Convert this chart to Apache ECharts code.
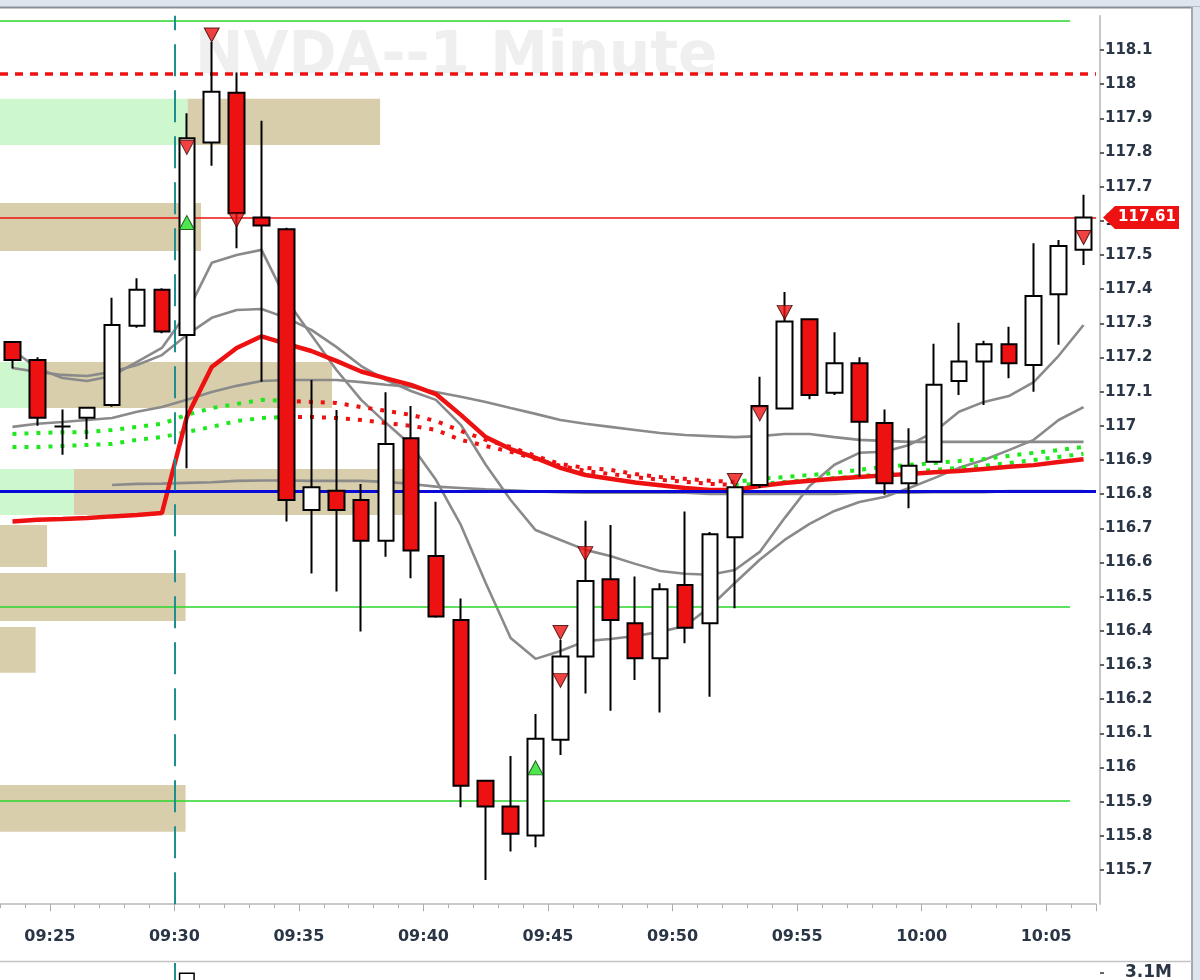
<!DOCTYPE html>
<html>
<head>
<meta charset="utf-8">
<script src="https://cdn.jsdelivr.net/npm/echarts@6/dist/echarts.min.js"></script>
<style>
html,body{margin:0;padding:0;background:#ffffff;}
#chart{width:1200px;height:980px;}
</style>
</head>
<body>
<div id="chart"></div>
<script>
// ---------- DATA ----------
const times = ['09:23','09:24','09:25','09:26','09:27','09:28','09:29','09:30','09:31','09:32','09:33','09:34','09:35','09:36','09:37','09:38','09:39','09:40','09:41','09:42','09:43','09:44','09:45','09:46','09:47','09:48','09:49','09:50','09:51','09:52','09:53','09:54','09:55','09:56','09:57','09:58','09:59','10:00','10:01','10:02','10:03','10:04','10:05','10:06'];
const open  = [117.245,117.193,116.998,117.024,117.061,117.293,117.398,117.266,117.829,117.975,117.610,117.575,116.754,116.810,116.783,116.664,116.964,116.619,116.432,115.961,115.886,115.801,116.081,116.325,116.551,116.422,116.320,116.534,116.422,116.674,116.827,117.051,117.312,117.097,117.183,117.008,116.832,116.895,117.131,117.188,117.239,117.178,117.385,117.515];
const close = [117.193,117.024,116.998,117.053,117.295,117.398,117.276,117.842,117.978,117.622,117.586,116.783,116.820,116.754,116.664,116.947,116.635,116.442,115.947,115.886,115.806,116.084,116.325,116.546,116.432,116.320,116.522,116.409,116.683,116.820,117.058,117.305,117.090,117.183,117.012,116.832,116.883,117.120,117.188,117.239,117.183,117.380,117.526,117.610];
const low   = [117.168,117.000,116.915,116.961,117.056,117.287,117.271,116.876,117.761,117.520,117.129,116.720,116.568,116.515,116.398,116.617,116.554,116.438,115.884,115.671,115.754,115.767,116.037,116.217,116.166,116.256,116.161,116.364,116.207,116.466,116.818,117.048,117.078,117.090,116.851,116.798,116.759,116.893,117.090,117.061,117.139,117.100,117.237,117.471];
const high  = [117.245,117.201,117.048,117.055,117.375,117.432,117.403,117.915,118.123,118.034,117.893,117.580,117.134,117.046,116.830,117.098,117.058,116.778,116.495,115.961,116.034,116.157,116.373,116.722,116.710,116.559,116.539,116.749,116.689,116.825,117.144,117.392,117.312,117.274,117.201,117.048,116.993,117.240,117.302,117.249,117.290,117.534,117.544,117.676];
const volumeM = [0.35,0.30,0.28,0.25,0.40,0.32,0.30,3.10,2.40,2.60,1.90,2.70,1.50,1.30,1.20,1.40,1.30,1.20,2.20,1.60,1.40,1.70,1.30,1.20,1.00,0.90,0.90,0.90,0.80,1.00,1.20,1.40,1.00,0.80,0.90,0.90,0.70,0.80,0.70,0.60,0.60,0.90,0.80,0.60];

const vwap = [116.720,116.725,116.727,116.730,116.735,116.739,116.745,117.026,117.172,117.228,117.262,117.240,117.219,117.190,117.159,117.139,117.120,117.093,117.032,116.967,116.932,116.906,116.877,116.856,116.845,116.834,116.826,116.818,116.812,116.812,116.824,116.833,116.839,116.845,116.850,116.855,116.859,116.864,116.868,116.874,116.880,116.885,116.894,116.902];
const grayA = [117.222,117.169,117.140,117.131,117.146,117.187,117.228,117.330,117.477,117.500,117.515,117.368,117.266,117.164,117.076,117.008,116.944,116.842,116.710,116.540,116.379,116.318,116.341,116.370,116.376,116.385,116.397,116.414,116.470,116.540,116.608,116.666,116.713,116.751,116.777,116.792,116.818,116.847,116.877,116.900,116.929,116.959,117.017,117.055];
const grayB = [117.169,117.158,117.149,117.146,117.158,117.178,117.207,117.266,117.316,117.339,117.342,117.316,117.281,117.231,117.175,117.134,117.102,117.076,117.003,116.886,116.783,116.695,116.666,116.637,116.619,116.596,116.575,116.567,116.564,116.578,116.631,116.730,116.824,116.886,116.921,116.924,116.944,116.982,117.041,117.070,117.087,117.128,117.205,117.295];
const grayC = [116.997,117.006,117.011,117.017,117.023,117.041,117.055,117.076,117.099,117.117,117.131,117.134,117.134,117.134,117.128,117.120,117.114,117.099,117.085,117.070,117.052,117.035,117.017,117.006,116.997,116.988,116.979,116.973,116.970,116.967,116.970,116.976,116.976,116.967,116.959,116.956,116.953,116.953,116.953,116.953,116.953,116.953,116.953,116.953];
const grayD = [null,null,null,null,116.827,116.830,116.831,116.833,116.835,116.839,116.840,116.840,116.839,116.839,116.839,116.836,116.830,116.822,116.818,116.814,116.811,116.808,116.806,116.804,116.804,116.804,116.804,116.804,116.801,116.801,116.801,116.801,116.801,116.801,116.804,116.804,116.804,116.806,116.806,116.806,116.809,116.809,116.809,116.809];
const emaUpper = [116.976,116.979,116.981,116.982,116.988,116.997,117.006,117.032,117.052,117.064,117.076,117.073,117.070,117.067,117.055,117.044,117.032,117.014,116.985,116.959,116.938,116.912,116.888,116.877,116.871,116.859,116.850,116.845,116.839,116.836,116.845,116.850,116.856,116.862,116.871,116.880,116.886,116.891,116.897,116.903,116.912,116.921,116.929,116.938];
const emaLower = [116.938,116.938,116.941,116.944,116.947,116.959,116.967,116.982,116.997,117.014,117.023,117.026,117.026,117.023,117.017,117.008,117.000,116.988,116.959,116.941,116.924,116.903,116.883,116.868,116.859,116.850,116.842,116.836,116.830,116.827,116.830,116.836,116.842,116.847,116.853,116.859,116.865,116.871,116.877,116.883,116.891,116.900,116.909,116.918];
// EMA colouring: green / red / green split points (bar index)
const emaColorBreaks = [10.6, 29.1];

// signals: [bar index, price]
const sellSignals = [[7,117.815],[8,118.144],[9,117.602],[22,116.395],[22,116.255],[23,116.626],[29,116.840],[30,117.035],[31,117.332],[43,117.551]];
const buySignals  = [[7,117.595],[21,115.999]];

// levels
const lastPrice = 117.61;
const resistanceLevel = 118.03;
const pivotLevel = 116.807;
const greenLevels = [118.186, 116.471, 115.904];
const greenLevelEnd = 65.96;        // minutes after 09:00
const sessionOpen = 30;             // 09:30, minutes after 09:00
const axisStartMin = 23, axisEndMin = 67;

// zones: [startMin, endMin, topPrice, bottomPrice]
const tanZones = [
  [30.53,38.26,117.957,117.822],
  [23.00,31.07,117.652,117.512],
  [24.20,36.33,117.187,117.052],
  [25.97,39.18,116.874,116.739],
  [23.00,24.89,116.710,116.587],
  [23.00,30.45,116.569,116.429],
  [23.00,24.43,116.411,116.277],
  [23.00,30.45,115.949,115.812]
];
const greenZones = [
  [23.00,30.53,117.957,117.822],
  [23.00,24.20,117.187,117.052],
  [23.00,25.97,116.874,116.739]
];

const tickLabels = {25:'09:25',30:'09:30',35:'09:35',40:'09:40',45:'09:45',50:'09:50',55:'09:55',60:'10:00',65:'10:05'};
const volumeLabelValue = 3.1;

// ---------- STYLE ----------
const FONT = '"DejaVu Sans", Verdana, sans-serif';
const LABEL_COLOR = '#2a3546';
const RED = '#ee1111';
const GRAY = '#8a8a8a';
const GREEN_LINE = '#2ad62a';
const GREEN_DOT = '#1fe81f';
const TAN = '#d8ceac';
const LIGHT_GREEN = '#cdf8cd';

const candleData = times.map((t, i) => [open[i], close[i], low[i], high[i]]);

const chart = echarts.init(document.getElementById('chart'), null, {renderer: 'canvas', width: 1200, height: 980});

const grayLine = (data, z) => ({
  type: 'line', xAxisIndex: 0, yAxisIndex: 0, data: data, symbol: 'none', silent: true, z: z,
  lineStyle: {color: GRAY, width: 2.6}, connectNulls: false
});

const option = {
  animation: false,
  backgroundColor: '#ffffff',
  grid: [
    {left: 0, top: 15.8, width: 1096, height: 888.4, containLabel: false, outerBoundsMode: 'none'},
    {left: 0, top: 963, width: 1096, height: 300, containLabel: false, outerBoundsMode: 'none'}
  ],
  xAxis: [
    { type: 'category', gridIndex: 0, position: 'bottom', data: times, boundaryGap: true,
      axisLine: {show: false}, axisLabel: {show: false}, splitLine: {show: false},
      axisTick: {show: true, length: 7, lineStyle: {color: '#a8a8a8', width: 1},
        interval: (idx) => (axisStartMin + idx) % 5 === 0 } },
    { type: 'value', gridIndex: 0, position: 'bottom', min: axisStartMin, max: axisEndMin, interval: 1,
      axisLine: {show: true, onZero: false, lineStyle: {color: '#b8b8b8', width: 1.5}},
      axisTick: {show: true, length: 4, lineStyle: {color: '#b0b0b0', width: 1}},
      splitLine: {show: false},
      axisLabel: {margin: 25, color: LABEL_COLOR, fontFamily: FONT, fontWeight: 'bold', fontSize: 16,
        showMinLabel: true, showMaxLabel: true,
        formatter: (v) => tickLabels[Math.round(v)] || '' } },
    { type: 'category', gridIndex: 1, position: 'bottom', data: times, boundaryGap: true, show: false },
    { type: 'value', gridIndex: 1, position: 'bottom', min: axisStartMin, max: axisEndMin, show: false }
  ],
  yAxis: [
    { type: 'value', gridIndex: 0, position: 'right', offset: 4, min: 115.6, max: 118.2, interval: 0.1,
      axisLine: {show: true, onZero: false, lineStyle: {color: '#b4b4b4', width: 1.5}},
      axisTick: {show: true, length: 4, lineStyle: {color: '#333333', width: 1.5}},
      splitLine: {show: false},
      axisLabel: {margin: 5, color: LABEL_COLOR, fontFamily: FONT, fontWeight: 'bold', fontSize: 15,
        showMinLabel: false, showMaxLabel: false,
        formatter: (v) => String(Number(v.toFixed(1))) } },
    { type: 'value', gridIndex: 1, position: 'right', offset: 4, min: 0, max: 3.2, interval: 0.1,
      axisLine: {show: false}, splitLine: {show: false},
      axisTick: {show: true, length: 4, customValues: [volumeLabelValue], lineStyle: {color: '#333333', width: 1.5}},
      axisLabel: {margin: 25, customValues: [volumeLabelValue], color: LABEL_COLOR, fontFamily: FONT, fontWeight: 'bold', fontSize: 17,
        formatter: (v) => Math.abs(v - volumeLabelValue) < 1e-6 ? volumeLabelValue.toFixed(1) + 'M' : '' } }
  ],
  visualMap: [{
    type: 'piecewise', show: false, dimension: 0, seriesIndex: [6, 7],
    pieces: [
      {lt: emaColorBreaks[0], color: GREEN_DOT},
      {gte: emaColorBreaks[0], lt: emaColorBreaks[1], color: RED},
      {gte: emaColorBreaks[1], color: GREEN_DOT}
    ]
  }],
  graphic: [
    {type: 'text', x: 195, y: 58, z: 0, silent: true,
      style: {text: 'NVDA--1 Minute', font: 'bold 58px ' + FONT, fill: '#efefef', verticalAlign: 'middle'}},
    {type: 'rect', z: 100, silent: true, shape: {x: 0, y: 0, width: 1200, height: 7}, style: {fill: '#dde5ee'}},
    {type: 'line', z: 100, silent: true, shape: {x1: 0, y1: 7.5, x2: 1200, y2: 7.5}, style: {stroke: '#8a8f96', lineWidth: 2}},
    {type: 'rect', z: 100, silent: true, shape: {x: 1193, y: 7, width: 7, height: 973}, style: {fill: '#dde5ee'}},
    {type: 'line', z: 100, silent: true, shape: {x1: 1192, y1: 7, x2: 1192, y2: 980}, style: {stroke: '#a4a8ae', lineWidth: 2}},
    {type: 'line', z: 100, silent: true, shape: {x1: 0, y1: 961.5, x2: 1192, y2: 961.5}, style: {stroke: '#c4c4c4', lineWidth: 1.5}}
  ],
  series: [
    // 0 zones
    { type: 'line', xAxisIndex: 1, yAxisIndex: 0, data: [], silent: true, z: 1,
      markArea: { silent: true,
        data: greenZones.map(z => [{coord: [z[0], z[2]], itemStyle: {color: LIGHT_GREEN}}, {coord: [z[1], z[3]]}])
          .concat(tanZones.map(z => [{coord: [z[0], z[2]], itemStyle: {color: TAN}}, {coord: [z[1], z[3]]}])) } },
    // 1 levels
    { type: 'line', xAxisIndex: 1, yAxisIndex: 0, data: [], silent: true, z: 2,
      markLine: { silent: true, symbol: ['none', 'none'], label: {show: false},
        data: greenLevels.map(v => [
            {coord: [axisStartMin, v], lineStyle: {color: GREEN_LINE, width: 1.5, type: 'solid'}},
            {coord: [greenLevelEnd, v], lineStyle: {color: GREEN_LINE, width: 1.5, type: 'solid'}}])
          .concat([
            {yAxis: resistanceLevel, lineStyle: {color: RED, width: 3.5, type: [8, 7]}},
            {yAxis: lastPrice, lineStyle: {color: RED, width: 1.5, type: 'solid'}},
            {yAxis: pivotLevel, lineStyle: {color: '#0a0ad8', width: 3, type: 'solid'}},
            {xAxis: sessionOpen, lineStyle: {color: '#1f8e8e', width: 2, type: [32, 14]}}
          ]) },
      markPoint: { silent: true,
        symbol: 'path://M0,11.5L12,0L76,0L76,23L12,23Z', symbolSize: [76, 23], symbolKeepAspect: false,
        symbolOffset: [45, 0], itemStyle: {color: RED},
        label: {show: true, position: 'inside', offset: [6, 0], color: '#ffffff', fontFamily: FONT, fontWeight: 'bold', fontSize: 15,
          formatter: () => lastPrice.toFixed(2)},
        data: [{coord: [axisEndMin, lastPrice]}] } },
    // 2-5 gray moving averages
    grayLine(grayC, 3),
    grayLine(grayD, 3),
    grayLine(grayB, 3),
    grayLine(grayA, 3),
    // 6,7 dotted EMAs
    { type: 'line', xAxisIndex: 0, yAxisIndex: 0, data: emaUpper, symbol: 'none', silent: true, z: 3,
      lineStyle: {width: 4, type: [4, 8]} },
    { type: 'line', xAxisIndex: 0, yAxisIndex: 0, data: emaLower, symbol: 'none', silent: true, z: 3,
      lineStyle: {width: 4, type: [4, 8]} },
    // 8 vwap
    { type: 'line', xAxisIndex: 0, yAxisIndex: 0, data: vwap, symbol: 'none', silent: true, z: 4,
      lineStyle: {color: RED, width: 4.5} },
    // 9 candles
    { type: 'candlestick', xAxisIndex: 0, yAxisIndex: 0, data: candleData, barWidth: 16, z: 5, silent: true,
      itemStyle: {color: '#ffffff', color0: RED, borderColor: '#000000', borderColor0: '#000000', borderColorDoji: '#000000', borderWidth: 2} },
    // 10 sell markers
    { type: 'scatter', xAxisIndex: 0, yAxisIndex: 0, data: sellSignals, symbol: 'triangle', symbolRotate: 180,
      symbolSize: [15, 14], z: 6, silent: true, itemStyle: {color: RED, borderColor: '#3a0000', borderWidth: 1} },
    // 11 buy markers
    { type: 'scatter', xAxisIndex: 0, yAxisIndex: 0, data: buySignals, symbol: 'triangle',
      symbolSize: [15, 14], z: 6, silent: true, itemStyle: {color: '#22e022', borderColor: '#003a00', borderWidth: 1} },
    // 12 volume
    { type: 'bar', xAxisIndex: 2, yAxisIndex: 1, data: volumeM, barWidth: 16, silent: true,
      itemStyle: {color: '#ffffff', borderColor: '#000000', borderWidth: 1.5} },
    // 13 session line in volume pane
    { type: 'line', xAxisIndex: 3, yAxisIndex: 1, data: [], silent: true,
      markLine: { silent: true, symbol: ['none', 'none'], label: {show: false},
        data: [{xAxis: sessionOpen, lineStyle: {color: '#1f8e8e', width: 2, type: [32, 14]}}] } }
  ]
};
chart.setOption(option);
</script>
</body>
</html>
